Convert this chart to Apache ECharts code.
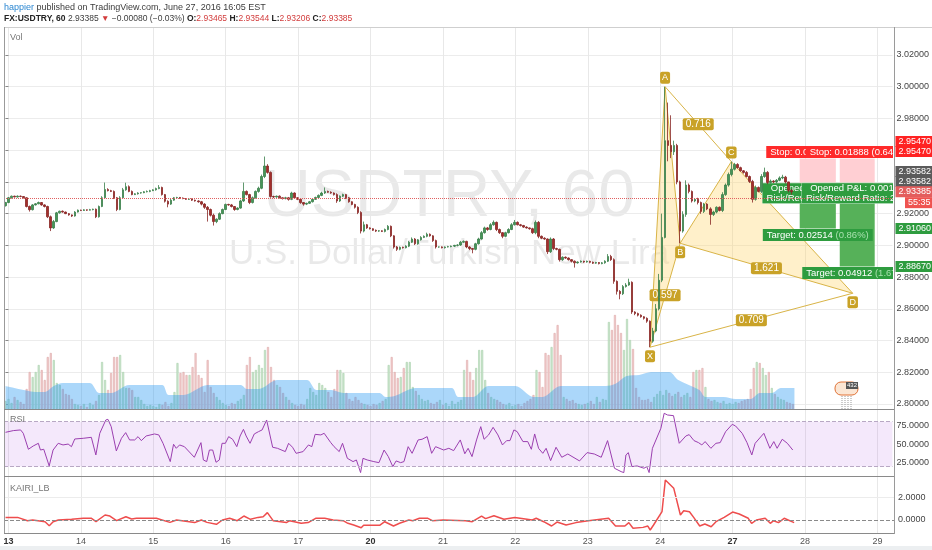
<!DOCTYPE html>
<html>
<head>
<meta charset="utf-8">
<title>USDTRY, 60</title>
<script src="https://cdn.jsdelivr.net/npm/echarts@6/dist/echarts.min.js"></script>
<style>
  html, body { margin: 0; padding: 0; background: #fff; }
  #chart { width: 932px; height: 550px; }
</style>
</head>
<body>
<div id="chart"></div>
<script>
// FX:USDTRY 60 — candles + volume, RSI, KAIRI_LB, XABCD pattern, two short positions

const dayLabels = ['13', '14', '15', '16', '17', '20', '21', '22', '23', '24', '27', '28', '29'];
const boldDays = ['13', '20', '27'];

const firstOpen = 2.9250;
// hourly closes, one row per half day
const closes = [
  2.9270,
  2.9300, 2.9310, 2.9305, 2.9310, 2.9308, 2.9300, 2.9245, 2.9225, 2.9255, 2.9262, 2.9270, 2.9255,
  2.9245, 2.9180, 2.9110, 2.9150, 2.9205, 2.9215, 2.9210, 2.9200, 2.9192, 2.9185, 2.9210, 2.9222,
  2.9220, 2.9224, 2.9222, 2.9225, 2.9228, 2.9180, 2.9245, 2.9300, 2.9352, 2.9345, 2.9340, 2.9300,
  2.9226, 2.9300, 2.9350, 2.9370, 2.9340, 2.9320, 2.9325, 2.9330, 2.9332, 2.9338, 2.9340, 2.9345,
  2.9350, 2.9358, 2.9365, 2.9320, 2.9278, 2.9260, 2.9285, 2.9300, 2.9302, 2.9298, 2.9295, 2.9290,
  2.9292, 2.9285, 2.9280, 2.9275, 2.9260, 2.9240, 2.9226, 2.9190, 2.9150, 2.9165, 2.9200, 2.9226,
  2.9258, 2.9255, 2.9245, 2.9226, 2.9235, 2.9280, 2.9340, 2.9320, 2.9270, 2.9300, 2.9340, 2.9360,
  2.9434, 2.9500, 2.9460, 2.9308, 2.9305, 2.9310, 2.9300, 2.9295, 2.9300, 2.9290, 2.9330, 2.9300,
  2.9290, 2.9270, 2.9260, 2.9265, 2.9275, 2.9290, 2.9302, 2.9315, 2.9330, 2.9340, 2.9335, 2.9330,
  2.9320, 2.9280, 2.9310, 2.9320, 2.9300, 2.9275, 2.9258, 2.9240, 2.9207, 2.9090, 2.9130, 2.9110,
  2.9105, 2.9095, 2.9090, 2.9092, 2.9088, 2.9100, 2.9120, 2.9060, 2.8990, 2.8975, 2.8988, 2.8985,
  2.8995, 2.9020, 2.9040, 2.9010, 2.9035, 2.9050, 2.9057, 2.9070, 2.9060, 2.9030, 2.8990, 2.8990,
  2.8985, 2.8990, 2.8992, 2.8995, 2.9000, 2.9002, 2.9020, 2.9025, 2.8990, 2.8980, 2.8975, 2.9010,
  2.9040, 2.9080, 2.9110, 2.9100, 2.9130, 2.9145, 2.9100, 2.9080, 2.9057, 2.9080, 2.9100, 2.9130,
  2.9145, 2.9130, 2.9125, 2.9115, 2.9110, 2.9105, 2.9080, 2.9145, 2.9057, 2.9045, 2.9040, 2.8960,
  2.9040, 2.8980, 2.8975, 2.8910, 2.8925, 2.8920, 2.8910, 2.8900, 2.8890, 2.8895, 2.8900, 2.8895,
  2.8900, 2.8893, 2.8888, 2.8892, 2.8885, 2.8890, 2.8900, 2.8930, 2.8910, 2.8773, 2.8710, 2.8695,
  2.8740, 2.8750, 2.8767, 2.8580, 2.8570, 2.8560, 2.8550, 2.8540, 2.8522, 2.8396, 2.8460, 2.8600,
  2.8780, 2.9050, 2.9660, 2.9630, 2.9590, 2.9630, 2.9400, 2.9090, 2.9195, 2.9380, 2.9340, 2.9280,
  2.9290, 2.9270, 2.9214, 2.9260, 2.9230, 2.9195, 2.9210, 2.9240, 2.9220, 2.9320, 2.9380, 2.9447,
  2.9480, 2.9510, 2.9490, 2.9470, 2.9460, 2.9434, 2.9403, 2.9290, 2.9365, 2.9340, 2.9434, 2.9460,
  2.9396, 2.9405, 2.9400, 2.9410, 2.9425, 2.9430, 2.9400, 2.93465, 2.93385
];
// upper / lower wick beyond the body, in pips
const wickHi = [
  4,
  5, 4, 3, 5, 4, 3, 4, 6, 5, 4, 6, 3, 4, 5, 8, 10, 6, 4, 5, 3, 4, 3, 6, 4,
  3, 4, 2, 5, 3, 4, 6, 10, 44, 8, 5, 6, 5, 10, 12, 25, 8, 6, 4, 5, 3, 4, 6, 5,
  4, 6, 15, 5, 4, 6, 8, 5, 4, 3, 4, 3, 5, 4, 3, 4, 5, 6, 8, 6, 10, 5, 8, 6,
  5, 4, 6, 3, 5, 8, 56, 6, 5, 8, 6, 10, 12, 60, 12, 6, 5, 4, 5, 3, 6, 5, 8, 4,
  4, 5, 3, 4, 5, 6, 5, 6, 8, 25, 5, 6, 4, 8, 5, 6, 4, 5, 3, 4, 6, 8, 20, 5,
  4, 3, 5, 4, 3, 6, 8, 5, 4, 6, 5, 4, 6, 8, 10, 6, 5, 8, 6, 10, 5, 4, 6, 3,
  4, 3, 5, 4, 3, 5, 8, 6, 4, 5, 3, 6, 8, 10, 8, 6, 10, 12, 5, 6, 4, 6, 8, 10,
  15, 6, 5, 4, 5, 3, 6, 12, 8, 5, 6, 4, 10, 6, 5, 4, 6, 5, 4, 3, 5, 4, 5, 3,
  4, 3, 5, 4, 3, 5, 6, 15, 10, 8, 6, 8, 10, 12, 23, 6, 5, 6, 5, 4, 6, 5, 20, 30,
  40, 150, 340, 240, 190, 30, 10, 8, 20, 30, 10, 6, 8, 10, 6, 8, 6, 10, 8, 6, 5, 15, 10, 12,
  48, 10, 8, 6, 5, 8, 6, 10, 12, 6, 15, 30, 8, 10, 6, 8, 10, 15, 8, 1, 8
];
const wickLo = [
  5,
  4, 5, 3, 4, 5, 4, 6, 12, 5, 4, 3, 5, 6, 8, 20, 6, 4, 5, 4, 3, 5, 6, 4, 3,
  4, 3, 5, 2, 4, 8, 5, 4, 6, 5, 4, 8, 10, 5, 4, 6, 5, 4, 3, 5, 4, 3, 4, 5,
  3, 5, 4, 6, 8, 20, 5, 4, 3, 5, 4, 3, 4, 5, 4, 6, 8, 10, 76, 8, 25, 10, 5, 4,
  4, 5, 6, 8, 5, 4, 6, 5, 10, 6, 5, 8, 6, 10, 8, 8, 6, 5, 4, 6, 5, 8, 5, 6,
  5, 8, 10, 6, 4, 5, 4, 3, 5, 6, 4, 5, 6, 12, 6, 5, 8, 6, 5, 8, 10, 15, 8, 6,
  5, 4, 6, 5, 4, 6, 5, 8, 10, 10, 6, 5, 4, 6, 5, 8, 6, 5, 4, 6, 5, 8, 10, 5,
  4, 5, 3, 4, 5, 6, 5, 4, 8, 10, 25, 6, 5, 4, 6, 8, 5, 6, 10, 8, 12, 6, 5, 4,
  5, 4, 6, 5, 4, 6, 8, 10, 12, 6, 5, 15, 8, 10, 6, 12, 8, 5, 6, 8, 30, 5, 4, 5,
  4, 6, 5, 4, 5, 4, 6, 5, 8, 15, 20, 35, 8, 6, 5, 12, 10, 8, 6, 8, 10, 38, 10, 8,
  10, 12, 6, 100, 40, 20, 15, 77, 10, 15, 12, 10, 8, 12, 15, 10, 8, 65, 10, 8, 6, 10, 8, 10,
  12, 8, 6, 5, 8, 6, 10, 20, 8, 6, 10, 8, 10, 6, 8, 10, 6, 8, 10, 12, 18
];
// volume, relative units
const volume = [
  8,
  10, 6, 12, 9, 7, 5, 20, 37, 32, 37, 44, 39, 29, 52, 56, 49, 26, 24, 20, 15, 14, 10, 5, 4,
  3, 5, 2, 6, 4, 8, 14, 47, 29, 19, 36, 52, 52, 54, 37, 21, 21, 19, 12, 12, 9, 5, 3, 4,
  3, 2, 5, 4, 7, 3, 6, 17, 46, 36, 37, 34, 34, 42, 56, 34, 31, 17, 49, 22, 16, 12, 9, 6,
  4, 3, 6, 5, 8, 10, 14, 44, 52, 37, 39, 44, 41, 59, 62, 42, 29, 24, 22, 16, 12, 9, 6, 4,
  3, 5, 4, 10, 21, 17, 14, 26, 24, 21, 17, 12, 20, 39, 39, 36, 16, 10, 8, 12, 9, 6, 5, 4,
  3, 5, 4, 6, 8, 10, 44, 52, 37, 31, 32, 41, 47, 47, 22, 18, 14, 10, 8, 9, 6, 5, 7, 9,
  4, 6, 3, 8, 5, 7, 9, 39, 49, 37, 29, 41, 59, 59, 29, 16, 12, 10, 9, 7, 5, 4, 6, 3,
  4, 5, 3, 6, 8, 10, 14, 39, 37, 22, 56, 54, 62, 76, 84, 54, 12, 10, 8, 9, 6, 5, 4, 5,
  6, 8, 5, 12, 7, 10, 9, 87, 79, 94, 84, 76, 59, 90, 69, 60, 21, 12, 9, 9, 10, 7, 12, 15,
  18, 14, 19, 16, 13, 15, 17, 12, 14, 16, 12, 37, 39, 39, 41, 22, 10, 8, 9, 7, 6, 8, 5, 6,
  5, 7, 6, 8, 9, 10, 20, 41, 47, 46, 41, 34, 37, 21, 15, 12, 10, 9, 7, 6, 5
];
// volume moving average, [bar, value]
const volMaPts = [
  [0, 23], [6, 19], [10, 17], [13, 17], [16, 23], [19, 26], [28, 26], [31, 16], [35, 16], [41, 24],
  [52, 24], [54, 14], [59, 14], [67, 24], [78, 24], [80, 20], [84, 20], [90, 29], [100, 29], [103, 19],
  [108, 19], [112, 16], [124, 16], [126, 12], [129, 13], [136, 21], [148, 21], [150, 12], [155, 12], [160, 23],
  [169, 23], [175, 12], [178, 12], [184, 23], [199, 23], [202, 25], [206, 33], [210, 34], [214, 37], [220, 37],
  [223, 29], [230, 19], [232, 12], [238, 12], [242, 10], [247, 10], [250, 16], [254, 16], [257, 21], [261.5, 21]
];
const rsiPts = [
  [0, 65.7], [2.6, 68], [5, 68.9], [5.9, 64.4], [7.6, 43], [9.2, 47.4], [10.9, 51], [11.6, 42], [12.7, 43], [14.5, 20.7],
  [15.8, 42], [17.5, 51], [19.1, 48.8], [20.8, 50], [21.9, 46.5], [23, 56.8], [25.8, 57.7], [28.5, 59], [30, 35.4], [31.3, 64.4],
  [33.3, 82.2], [34, 83.1], [35.1, 73.3], [36.8, 40.8], [38.5, 57.7], [39.9, 65.3], [41.2, 55.5], [42.9, 55.5], [44, 59.9], [45.1, 54.6],
  [46.7, 60.8], [49.5, 63.5], [50.9, 62.2], [52.3, 51], [54.7, 26.5], [55.8, 49.7], [56.7, 44.3], [57.8, 48.8], [59.4, 46.5], [62.7, 32.3],
  [64.9, 51.9], [65.7, 28.7], [66.8, 26.5], [67.7, 42], [68.8, 42], [69.9, 25.6], [71, 28.7], [71.9, 51], [73, 51], [74.1, 59.9],
  [75.4, 56.4], [76.8, 46.5], [77.9, 60.8], [79, 69.7], [79.9, 60.8], [81.2, 51], [82.6, 63.5], [84, 66.6], [85.2, 68.9], [86.7, 82.2],
  [88.7, 45.7], [90.3, 44.3], [92.9, 39.9], [94, 51], [95.3, 45.7], [96.5, 37.6], [98.8, 39.9], [100.6, 48.8], [101.7, 46.5], [102.8, 63],
  [104.7, 62.2], [105.8, 64.4], [108, 51.9], [109.1, 46.5], [110.8, 39.9], [111.9, 51], [113.5, 30.9], [115.4, 26.5], [116.5, 28.7], [117.9, 11.8],
  [118.7, 30.9], [120.1, 28.7], [122.3, 26.5], [124, 25.1], [125.7, 42], [127.1, 33.2], [128.6, 19.8], [129.7, 27.4], [131.2, 25.1], [132.3, 26.5],
  [133.7, 46.5], [135, 37.6], [137, 55.5], [138.3, 56.4], [140, 59.9], [141.5, 37.6], [142.8, 46.5], [145.5, 42], [147.2, 44.3], [148.8, 41.2],
  [151, 55.5], [152.5, 37], [153.6, 44.3], [154.9, 33.2], [156.4, 55.5], [157.8, 73.3], [158.9, 56.4], [160.4, 62.2], [161.9, 72.4], [163.5, 62.2],
  [165, 48.8], [166.4, 54.6], [167.5, 54.6], [168.8, 68.9], [169.9, 66.6], [171.8, 53.3], [173.4, 53.3], [174.6, 43], [175.7, 63.5], [177, 44.3],
  [178.4, 37.6], [179.5, 44.3], [181, 27.8], [182.8, 45.7], [184.7, 32.3], [186.7, 36.7], [190.6, 27.4], [193.1, 38.5], [195.5, 36.7], [197.8, 32.3],
  [199.9, 54.6], [202.2, 17.6], [204.4, 13.1], [205.3, 11.8], [206, 35.4], [206.8, 38.5], [208, 19.8], [209.7, 20.7], [212, 17.6], [212.9, 19.8],
  [213.7, 11.8], [214.8, 44.3], [217.6, 71.1], [218.7, 91.2], [219.8, 88.9], [221.8, 88], [223.7, 51], [225.9, 60.8], [227, 62.6], [228.6, 54.6],
  [230.1, 51.9], [231.2, 48.8], [232.3, 53.3], [234.2, 44.3], [235.9, 51], [237.3, 51.9], [239.1, 66.6], [241.3, 76.4], [242.4, 74.2], [244.6, 64.4],
  [246.2, 51.9], [247.8, 35.4], [248.9, 51], [251.8, 64.4], [253.8, 44.3], [255.1, 53.3], [256.2, 44.3], [257.9, 56.4], [259.6, 51], [261.4, 42]
];
const kairiPts = [
  [0, 0.23], [4, 0.23], [7.3, -0.06], [9, 0], [13.1, -0.15], [14.5, -0.5], [15.8, -0.15], [17.5, 0], [21.9, 0.06], [25.8, 0.15],
  [28.5, 0.15], [30, -0.15], [33, 0.44], [34.6, 0.35], [36.8, -0.06], [39.9, 0.29], [41.8, 0.09], [43.4, 0.15], [50, 0.15], [54.5, -0.21],
  [56.7, 0], [62.7, -0.23], [64.9, 0], [66.8, -0.21], [69.9, -0.38], [71.9, 0], [74.3, 0.15], [76.8, -0.06], [79, 0.35], [81.2, 0.06],
  [83.7, 0.23], [85.4, 0.29], [86.8, 0.65], [88.7, -0.06], [93.1, -0.23], [94.2, -0.06], [98, -0.29], [100.3, -0.23], [102.8, 0.15], [105.8, 0.15],
  [108.6, 0], [111.9, -0.06], [113.5, -0.29], [115.4, -0.44], [117.9, -0.68], [118.7, -0.47], [124, -0.47], [125.7, -0.15], [128.6, -0.53], [130.6, -0.29],
  [133.7, 0], [135, -0.06], [137.2, 0.15], [140, 0.15], [141.5, -0.06], [145, 0], [152.5, -0.06], [154.7, -0.15], [157.8, 0.35], [159.1, 0.12],
  [161.9, 0.38], [165.2, 0.06], [168.8, 0.23], [174.6, 0], [175.9, 0.15], [178.4, -0.15], [181, -0.53], [182.8, -0.18], [185.8, -0.44], [189.1, -0.23],
  [193.2, -0.06], [199.9, 0.15], [202.2, -0.53], [205.3, -0.53], [206.6, -0.23], [208, -0.73], [211.3, -0.65], [212.9, -0.53], [213.7, -0.88], [214.8, -0.44],
  [217.6, 0.73], [218.7, 3.52], [221.5, 2.79], [223.7, 0.44], [224.8, 0.82], [226.7, 0.73], [228.1, 0.23], [230.1, -0.53], [231.8, -0.35], [233.9, -0.59],
  [235.5, -0.15], [238.2, 0.23], [241, 0.7], [243.2, 0.53], [246.2, 0.15], [247.3, -0.29], [248.9, 0], [251.8, 0.15], [253.5, -0.29], [254.6, -0.06],
  [256.2, -0.23], [258.1, 0.15], [261.4, -0.23]
];
const lastPrice = 2.93385;

// XABCD pattern: [bar, price]
const patternPts = [[214, 2.8358], [219, 3.0000], [224, 2.9013], [241, 2.9528], [281.3, 2.8698]];
const patternNames = ['X', 'A', 'B', 'C', 'D'];
const patternRatios = [['0.597', 0, 2], ['0.716', 1, 3], ['1.621', 2, 4], ['0.709', 0, 4]];

// short positions
const posStart = [263.7, 277.0];
const posEnd = [275.7, 288.6];
const posEntry = [2.93582, 2.93582];
const posStop = [2.95470, 2.95470];
const posTarget = [2.91060, 2.88670];
const posStopText = ['Stop: 0.01888 (0.64%)', 'Stop: 0.01888 (0.64%)'];
const posOpenText = ['Opened P&L: 0.00197\nRisk/Reward Ratio: 1.33', 'Opened P&L: 0.00197\nRisk/Reward Ratio: 2.60'];
const posTargetText = [['Target: 0.02514', '(0.86%)'], ['Target: 0.04912', '(1.67%)']];

// price scale tags
const tagPrices = [2.95470, 2.95470, 2.93582, 2.93582, 2.93385, 2.91060, 2.88670];
const countdownText = '55:35';

// ---------------------------------------------------------------
const FONT = '"Liberation Sans", Arial, sans-serif';
const slotCount = 295;
const plotLeft = 4, plotWidth = 890;
const band = plotWidth / slotCount;
const frameLeft = plotLeft + band / 2, frameWidth = band * (slotCount - 1);

const cats = Array.from({ length: slotCount }, (_, k) => String(k));
const dayAt = {};
dayLabels.forEach((d, n) => { dayAt[1 + 24 * n] = d; });
const isDay = idx => dayAt[idx] !== undefined;

const upColor = '#479558', downColor = '#a32f2c';
const candles = [], volData = [];
let prev = firstOpen;
closes.forEach((c, i) => {
    const o = prev;
    const hi = Math.max(o, c) + wickHi[i] / 10000;
    const lo = Math.min(o, c) - wickLo[i] / 10000;
    candles.push([o, c, lo, hi]);
    const up = c >= o;
    volData.push({
        value: volume[i],
        itemStyle: { color: up ? '#cfe6d1' : '#f2d0d0', borderColor: up ? '#a6d0aa' : '#dea6a6', borderWidth: 0.6 }
    });
    prev = c;
});

function frameAxis(gridIndex, withLabels) {
    return {
        gridIndex: gridIndex, type: 'category', data: cats, boundaryGap: false,
        axisLine: { show: false }, axisTick: { show: false },
        axisLabel: withLabels ? {
            interval: isDay, margin: 4, fontSize: 9, color: '#555', fontFamily: FONT,
            formatter: (v, idx) => { const d = dayAt[idx] || ''; return boldDays.includes(d) ? '{b|' + d + '}' : d; },
            rich: { b: { fontWeight: 'bold', fontSize: 9, color: '#333', fontFamily: FONT } }
        } : { show: false },
        splitLine: { show: true, interval: isDay, lineStyle: { color: '#e8e8e8', width: 1 } }
    };
}
const hiddenCat = g => ({ gridIndex: g, type: 'category', data: cats, boundaryGap: true, show: false });
const hiddenVal = g => ({ gridIndex: g, type: 'value', min: -0.5, max: slotCount - 0.5, show: false });

function lbl(x, y, text, bg, extra) {
    return {
        type: 'text', x: x, y: y,
        style: Object.assign({
            text: text, fill: '#fff', fontSize: 9.5, fontFamily: FONT, align: 'center', verticalAlign: 'middle',
            backgroundColor: bg, padding: [1, 4], lineHeight: 10
        }, extra || {})
    };
}

function drawPattern(params, api) {
    const p = patternPts.map(q => api.coord(q));
    const kids = [];
    [[0, 1, 2], [2, 3, 4]].forEach(t => kids.push({
        type: 'polygon', shape: { points: t.map(n => p[n]) }, style: { fill: 'rgba(255,214,110,0.37)' }
    }));
    [[0, 1], [1, 2], [2, 3], [3, 4], [0, 2], [1, 3], [2, 4], [0, 4]].forEach(s => kids.push({
        type: 'line', shape: { x1: p[s[0]][0], y1: p[s[0]][1], x2: p[s[1]][0], y2: p[s[1]][1] },
        style: { stroke: '#d9b447', lineWidth: 1 }
    }));
    patternRatios.forEach(r => {
        const a = p[r[1]], b = p[r[2]];
        kids.push(lbl((a[0] + b[0]) / 2, (a[1] + b[1]) / 2, r[0], '#c9a227', { padding: [1, 3], borderRadius: 2, fontSize: 10 }));
    });
    patternNames.forEach((n, k) => {
        const up = n === 'A' || n === 'C';
        kids.push(lbl(p[k][0], p[k][1] + (up ? -9 : 9), n, '#c9a227', { padding: [1, 2], borderRadius: 2, fontSize: 9 }));
    });
    return { type: 'group', children: kids };
}

function drawPositions(params, api) {
    const kids = [];
    posStart.forEach((s, k) => {
        const a = api.coord([s, posStop[k]]), e = api.coord([posEnd[k], posEntry[k]]), t = api.coord([posEnd[k], posTarget[k]]);
        kids.push({ type: 'rect', shape: { x: a[0], y: a[1], width: e[0] - a[0], height: e[1] - a[1] }, style: { fill: '#ffcfd3' } });
        kids.push({ type: 'rect', shape: { x: a[0], y: e[1], width: e[0] - a[0], height: t[1] - e[1] }, style: { fill: '#56b159' } });
    });
    posStart.forEach((s, k) => {
        const cx = api.coord([(s + posEnd[k]) / 2, posStop[k]])[0];
        const yStop = api.coord([s, posStop[k]])[1];
        const yNow = api.coord([s, lastPrice])[1];
        const yTgt = api.coord([s, posTarget[k]])[1];
        kids.push(lbl(cx, yStop - 6.5, posStopText[k], '#ff2a2a', { padding: [1, 4] }));
        kids.push(lbl(cx, yNow + 1.5, posOpenText[k], '#2e9c3f', { padding: [0, 4], borderColor: '#bfe3c4', borderWidth: 0.5 }));
        kids.push(lbl(cx, yTgt + 6.5, '{w|' + posTargetText[k][0] + '} {g|' + posTargetText[k][1] + '}', '#2e9c3f', {
            padding: [1, 4],
            rich: { w: { fill: '#fff', fontSize: 9.5, fontFamily: FONT }, g: { fill: '#a8e0ae', fontSize: 9.5, fontFamily: FONT } }
        }));
    });
    return { type: 'group', children: kids };
}

const chart = echarts.init(document.getElementById('chart'), null, { renderer: 'canvas' });

const option = {
    animation: false,
    backgroundColor: '#fff',
    grid: [
        { left: frameLeft, width: frameWidth, top: 27, height: 382 },      // 0 main frame
        { left: plotLeft, width: plotWidth, top: 55, height: 349 },        // 1 price
        { left: plotLeft, width: plotWidth, top: 300, height: 109 },       // 2 volume
        { left: frameLeft, width: frameWidth, top: 409, height: 67 },      // 3 rsi frame
        { left: plotLeft, width: plotWidth, top: 406.7, height: 74.7 },    // 4 rsi
        { left: frameLeft, width: frameWidth, top: 476, height: 57 },      // 5 kairi frame
        { left: plotLeft, width: plotWidth, top: 474.6, height: 68.1 }     // 6 kairi
    ],
    xAxis: [
        frameAxis(0, false), hiddenCat(1), hiddenVal(1), hiddenCat(2), hiddenVal(2),
        frameAxis(3, false), hiddenVal(4), frameAxis(5, true), hiddenVal(6)
    ],
    yAxis: [
        { gridIndex: 0, type: 'value', show: false },
        {
            gridIndex: 1, type: 'value', position: 'right', min: 2.80, max: 3.02, interval: 0.02,
            axisLine: { show: false },
            axisTick: { show: true, length: 3, lineStyle: { color: '#888' } },
            axisLabel: { margin: 4, fontSize: 9, color: '#444', fontFamily: FONT, formatter: v => v.toFixed(5) },
            splitLine: { show: true, lineStyle: { color: '#ececec' } }
        },
        { gridIndex: 2, type: 'value', min: 0, max: 109, show: false },
        { gridIndex: 3, type: 'value', show: false },
        {
            gridIndex: 4, type: 'value', position: 'right', min: 0, max: 100, interval: 25,
            axisLine: { show: false }, axisTick: { show: false }, splitLine: { show: false },
            axisLabel: { margin: 4, fontSize: 9, color: '#444', fontFamily: FONT, formatter: v => (v > 0 && v < 100) ? v.toFixed(4) : '' }
        },
        { gridIndex: 5, type: 'value', show: false },
        {
            gridIndex: 6, type: 'value', position: 'right', min: -2, max: 4, interval: 2,
            axisLine: { show: false }, axisTick: { show: false }, splitLine: { show: false },
            axisLabel: { margin: 4, fontSize: 9, color: '#444', fontFamily: FONT, formatter: v => (v === 0 || v === 2) ? v.toFixed(4) : '' }
        }
    ],
    series: [
        { name: 'Vol', type: 'bar', xAxisIndex: 3, yAxisIndex: 2, barWidth: 2, data: volData, silent: true },
        {
            name: 'Vol MA', type: 'line', xAxisIndex: 4, yAxisIndex: 2, data: volMaPts, smooth: 0.3,
            symbol: 'none', lineStyle: { width: 0 }, areaStyle: { color: 'rgba(33,150,243,0.38)', opacity: 1 }, silent: true
        },
        {
            name: 'USDTRY', type: 'candlestick', xAxisIndex: 1, yAxisIndex: 1, barWidth: 2, data: candles,
            itemStyle: { color: upColor, color0: downColor, borderColor: '#3a7f4a', borderColor0: '#882624', borderWidth: 0.8 },
            markLine: {
                silent: true, symbol: ['none', 'none'], label: { show: false },
                lineStyle: { type: 'dotted', color: '#e06060', width: 1 },
                data: [{ yAxis: lastPrice }]
            }
        },
        { name: 'XABCD', type: 'custom', xAxisIndex: 2, yAxisIndex: 1, data: [[0, 2.9]], renderItem: drawPattern, clip: true, silent: true },
        { name: 'Positions', type: 'custom', xAxisIndex: 2, yAxisIndex: 1, data: [[0, 2.9]], renderItem: drawPositions, clip: true, silent: true },
        {
            name: 'RSI', type: 'line', xAxisIndex: 6, yAxisIndex: 4, data: rsiPts, symbol: 'none',
            lineStyle: { color: '#9b3fb0', width: 1 },
            markArea: { silent: true, itemStyle: { color: 'rgba(180,100,230,0.15)' }, data: [[{ yAxis: 20 }, { yAxis: 80 }]] },
            markLine: {
                silent: true, symbol: ['none', 'none'], label: { show: false },
                lineStyle: { type: 'dashed', color: '#b8a8c4', width: 1 },
                data: [{ yAxis: 80 }, { yAxis: 20 }]
            }
        },
        {
            name: 'KAIRI_LB', type: 'line', xAxisIndex: 8, yAxisIndex: 6, data: kairiPts, symbol: 'none',
            lineStyle: { color: '#ee4d4d', width: 1.5 },
            markLine: {
                silent: true, symbol: ['none', 'none'], label: { show: false },
                data: [
                    { yAxis: 0, lineStyle: { type: 'dashed', color: '#8a8a8a', width: 1 } },
                    { yAxis: 2, lineStyle: { type: 'solid', color: '#ececec', width: 1 } }
                ]
            }
        }
    ]
};
chart.setOption(option);

// chrome: header, pane titles, frame, watermark, price tags
const gfx = [];
const txt = (x, y, text, style, z) => ({ type: 'text', x: x, y: y, z: z === undefined ? 50 : z, silent: true,
    style: Object.assign({ text: text, fontSize: 9, fontFamily: FONT, fill: '#444', verticalAlign: 'middle' }, style) });
const seg = (x1, y1, x2, y2, color, dash) => ({ type: 'line', z: 40, silent: true, shape: { x1: x1, y1: y1, x2: x2, y2: y2 },
    style: { stroke: color, lineWidth: 1, lineDash: dash || null } });

gfx.push(txt(449, 197.5, 'USDTRY, 60', { fontSize: 66, fill: 'rgba(0,0,0,0.085)', align: 'center' }, -1));
gfx.push(txt(449, 254, 'U.S. Dollar/Turkish New Lira', { fontSize: 35, fill: 'rgba(0,0,0,0.085)', align: 'center' }, -1));

gfx.push(txt(4, 7.5, '{u|happier}{t| published on TradingView.com, June 27, 2016 16:05 EST}', {
    rich: { u: { fill: '#2a86d1', fontSize: 9, fontFamily: FONT }, t: { fill: '#3c3c3c', fontSize: 9, fontFamily: FONT } }
}));
gfx.push(txt(4, 18.5,
    '{b|FX:USDTRY, 60}{n| 2.93385 }{r|\u25BC}{n| \u22120.00080 (\u22120.03%) }{b|O:}{r|2.93465}{b| H:}{r|2.93544}{b| L:}{r|2.93206}{b| C:}{r|2.93385}', {
    rich: {
        b: { fill: '#222', fontWeight: 'bold', fontSize: 8.5, fontFamily: FONT },
        n: { fill: '#3c3c3c', fontSize: 8.5, fontFamily: FONT },
        r: { fill: '#d23c3c', fontSize: 8.5, fontFamily: FONT }
    }
}));

gfx.push(txt(10, 38, 'Vol', { fill: '#777' }));
gfx.push(txt(10, 420, 'RSI', { fill: '#777' }));
gfx.push(txt(10, 488.5, 'KAIRI_LB', { fill: '#777' }));

gfx.push(seg(4, 27.5, 932, 27.5, '#cfcfcf'));
gfx.push(seg(4.5, 27, 4.5, 534, '#9a9a9a'));
gfx.push(seg(894.5, 27, 894.5, 534, '#9a9a9a'));
gfx.push(seg(4, 409.5, 894, 409.5, '#8a8a8a'));
gfx.push(seg(4, 476.5, 894, 476.5, '#8a8a8a'));
gfx.push(seg(4, 533.5, 894, 533.5, '#8a8a8a'));
gfx.push({ type: 'rect', z: 40, silent: true, shape: { x: 0, y: 546, width: 932, height: 4 }, style: { fill: '#eceff1' } });

// economic event marker
gfx.push({ type: 'rect', z: 45, silent: true, shape: { x: 835, y: 382, width: 23, height: 13, r: 6 }, style: { fill: '#fbe6d4', stroke: '#e07236', lineWidth: 1 } });
gfx.push({ type: 'rect', z: 46, silent: true, shape: { x: 846, y: 382, width: 12, height: 7 }, style: { fill: '#555' } });
gfx.push(txt(852, 385.5, '432', { fontSize: 6, fill: '#fff', align: 'center' }, 47));
[842, 845, 848, 851].forEach(x => gfx.push(seg(x, 396, x, 409, '#9a9a9a', [1, 1])));

const tagNudge = [-17, -7, -17, -7, 0, 0, 0];
const tagColor = ['#ff2222', '#ff2222', '#5b5b5b', '#5b5b5b', '#e35d5d', '#2e9c3f', '#2e9c3f'];
tagPrices.forEach((p, k) => {
    const y = chart.convertToPixel({ yAxisIndex: 1 }, p) + tagNudge[k];
    gfx.push(txt(895.5, y, p.toFixed(5), { fill: '#fff', backgroundColor: tagColor[k], padding: [1, 2, 1, 3], width: 31.5 }, 60));
});
const yNow = chart.convertToPixel({ yAxisIndex: 1 }, lastPrice);
gfx.push(txt(905, yNow + 11, countdownText, { fill: '#fff', backgroundColor: '#ef5350', padding: [1, 2, 1, 3], width: 22 }, 60));

chart.setOption({ graphic: { elements: gfx } });
window.addEventListener('resize', () => chart.resize());
</script>
</body>
</html>
